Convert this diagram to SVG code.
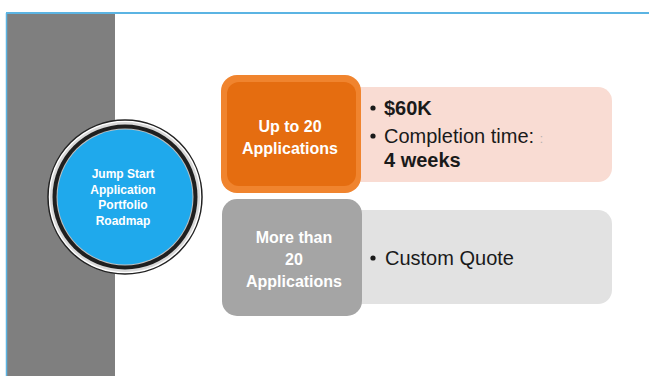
<svg xmlns="http://www.w3.org/2000/svg" width="649" height="376" viewBox="0 0 649 376">
<style>
.t{font-family:"Liberation Sans",Arial,sans-serif}
.wt{font-family:"Liberation Sans",Arial,sans-serif;font-weight:bold;fill:#ffffff;text-anchor:middle}
.bt{font-family:"Liberation Sans",Arial,sans-serif;fill:#1a1a1a;font-size:20px}
</style>
<rect x="0" y="0" width="649" height="376" fill="#ffffff"/>
<rect x="7" y="14" width="108" height="362" fill="#7f7f7f"/>
<line x1="6" y1="13" x2="649" y2="13" stroke="#5bb4e3" stroke-width="2"/>
<line x1="6.5" y1="13" x2="6.5" y2="376" stroke="#5bb4e3" stroke-width="1.5"/>
<g id="hub">
<circle cx="125" cy="197" r="77" fill="#ffffff" stroke="#222222" stroke-width="1.5"/>
<circle cx="125" cy="197" r="75" fill="#d9d9d9"/>
<circle cx="125" cy="197" r="72.5" fill="#1f1f1f"/>
<circle cx="125" cy="197" r="68.5" fill="#bfbfbf"/>
<circle cx="125" cy="197" r="67.5" fill="#1fa9ec"/>
<text class="wt" font-size="12" x="123" y="178">Jump Start</text>
<text class="wt" font-size="12" x="123" y="194">Application</text>
<text class="wt" font-size="12" x="123" y="209">Portfolio</text>
<text class="wt" font-size="12" x="123" y="225">Roadmap</text>
</g>
<g id="detail1">
<rect x="340" y="87" width="272" height="95" rx="14" fill="#f9dcd3"/>
<circle cx="373" cy="108" r="2.6" fill="#1a1a1a"/>
<text class="bt" x="384" y="115" font-weight="bold">$60K</text>
<circle cx="373" cy="136" r="2.6" fill="#1a1a1a"/>
<text class="bt" x="384" y="143">Completion time: <tspan fill="#b8b0ae" font-size="12">:</tspan></text>
<text class="bt" x="384" y="167" font-weight="bold">4 weeks</text>
</g>
<g id="tier1">
<rect x="221" y="75" width="140" height="118" rx="16" fill="#f0842e"/>
<rect x="227" y="82" width="129" height="104" rx="12" fill="#e56d10"/>
<text class="wt" font-size="16" x="290" y="132">Up to 20</text>
<text class="wt" font-size="16" x="290" y="154">Applications</text>
</g>
<g id="detail2">
<rect x="340" y="210" width="272" height="94" rx="14" fill="#e2e2e2"/>
<circle cx="373" cy="258" r="2.6" fill="#1a1a1a"/>
<text class="bt" x="385" y="265">Custom Quote</text>
</g>
<g id="tier2">
<rect x="222" y="199" width="140" height="117" rx="15" fill="#a5a5a5"/>
<text class="wt" font-size="16" x="294" y="243">More than</text>
<text class="wt" font-size="16" x="294" y="265">20</text>
<text class="wt" font-size="16" x="294" y="287">Applications</text>
</g>
<g id="connectors"></g>
</svg>
